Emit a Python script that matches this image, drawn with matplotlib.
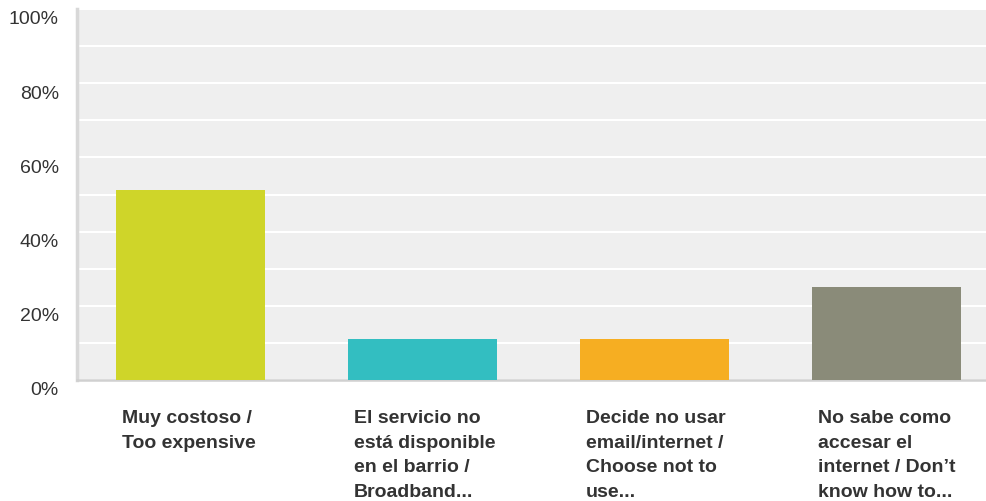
import matplotlib
matplotlib.use('Agg')
import matplotlib.pyplot as plt
import matplotlib.transforms as mtransforms

# datos
categorias = ["Muy costoso /\nToo expensive",
              "El servicio no\nestá disponible\nen el barrio /\nBroadband...",
              "Decide no usar\nemail/internet /\nChoose not to\nuse...",
              "No sabe como\naccesar el\ninternet / Don’t\nknow how to..."]
valores = [51.2, 11.1, 11.1, 25.1]
colores = ["#cfd529", "#33bec1", "#f6ae22", "#8a8b79"]
ticks_y = [0, 20, 40, 60, 80, 100]
etiquetas_y = ["0%", "20%", "40%", "60%", "80%", "100%"]

plt.rcParams['font.family'] = ['Liberation Sans', 'DejaVu Sans']

W, H = 986, 502
fig = plt.figure(figsize=(W/100, H/100), dpi=100)
# area del grafico en pixeles: x 77..986, y 10..381
ax = fig.add_axes([77/W, (H-381)/H, (W-77)/W, 371/H])
ax.set_facecolor('#efefef')

ancho = 149/232
x = list(range(len(valores)))
ax.bar(x, valores, width=ancho, color=colores, zorder=3)

ax.set_xlim((77-190.5)/232, (986-190.5)/232)
ax.set_ylim(0, 100)

# lineas de la cuadricula cada 10%
ax.set_yticks(ticks_y)
ax.set_yticklabels(etiquetas_y)
ax.set_yticks(range(10, 100, 20), minor=True)
ax.grid(axis='y', which='both', color='white', linewidth=1.5, zorder=1)
ax.tick_params(axis='y', which='both', length=0, pad=13, labelsize=14, labelcolor='#333333')
ax.set_xticks([])

desplazar = mtransforms.ScaledTranslation(0, -1/72, fig.dpi_scale_trans)
for lbl in ax.get_yticklabels():
    lbl.set_verticalalignment('top')
    lbl.set_transform(lbl.get_transform() + desplazar)

for s in ['top', 'right']:
    ax.spines[s].set_visible(False)
ax.spines['left'].set_color('#d8d8d8')
ax.spines['left'].set_linewidth(2.5)
ax.spines['bottom'].set_color('#d0d0d0')
ax.spines['bottom'].set_linewidth(1.8)

# etiquetas de categorias, alineadas a la izquierda bajo cada barra
trans = mtransforms.blended_transform_factory(ax.transData, ax.transAxes)
for i, txt in enumerate(categorias):
    ax.text(i - ancho/2 + 6/232, -0.079, txt, transform=trans, ha='left', va='top',
            fontsize=14, fontweight='bold', color='#333333', linespacing=1.58)

fig.savefig('out.png', dpi=100)
